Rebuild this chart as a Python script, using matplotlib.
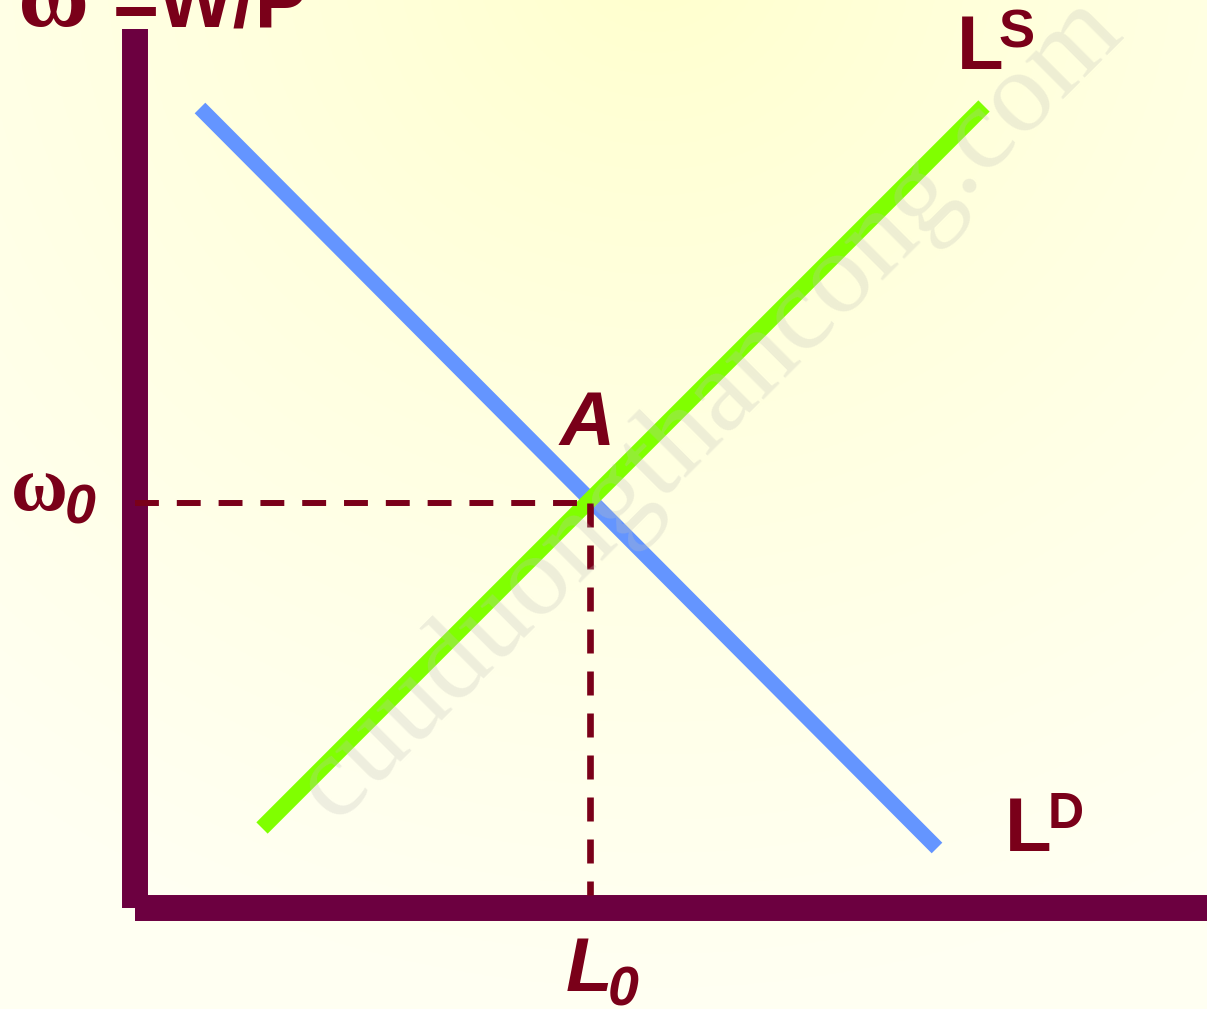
import numpy as np
import matplotlib
matplotlib.use('Agg')
import matplotlib.pyplot as plt

# curve end points (L, w) in diagram units, origin at the axes corner
ld_x = [0.65, 8.02]
ld_y = [8.00, 0.60]
ls_x = [1.27, 8.49]
ls_y = [0.80, 8.02]
L0 = 4.55
w0 = 4.05
x_axis_end = 10.72
y_axis_end = 8.79

text_col = '#7A0019'
axis_col = '#6C0040'
font = 'Liberation Sans'
serif = 'Liberation Serif'

fig = plt.figure(figsize=(12.07, 10.09), dpi=100)
ax = fig.add_axes([0, 0, 1, 1])
ax.set_xlim(-1.35, 10.72)
ax.set_ylim(-1.01, 9.08)
ax.axis('off')

# background: soft yellow radial gradient
gx, gy = np.meshgrid(np.linspace(-1.35, 10.72, 400), np.linspace(-1.01, 9.08, 340))
r = np.sqrt(((gx - 5.2) / 11.0) ** 2 + ((gy - 9.6) / 10.5) ** 2)
r = np.clip(r, 0, 1) ** 0.8
c0 = np.array([1.0, 1.0, 0.80])
c1 = np.array([1.0, 1.0, 0.95])
img = c0[None, None, :] * (1 - r[..., None]) + c1[None, None, :] * r[..., None]
ax.imshow(img, extent=[-1.35, 10.72, -1.01, 9.08], origin='lower', aspect='auto', zorder=0)

# axes
ax.plot([0, 0], [0, y_axis_end], color=axis_col, lw=18.7, solid_capstyle='butt', zorder=2)
ax.plot([0, x_axis_end], [0, 0], color=axis_col, lw=18.7, solid_capstyle='butt', zorder=2)

# curves
ax.plot(ld_x, ld_y, color='#6495FF', lw=10.8, solid_capstyle='butt', zorder=3)
ax.plot(ls_x, ls_y, color='#80FF00', lw=11.5, solid_capstyle='butt', zorder=4)

# dashed guides
ax.plot([0, L0], [w0, w0], color=text_col, lw=4.3, dashes=(4, 3), dash_capstyle='butt', zorder=5)
ax.plot([L0, L0], [w0, 0.13], color=text_col, lw=4.8, dashes=(3.6, 2.7), dash_capstyle='butt', zorder=5)

# labels
ax.text(-1.17, 8.82, 'ω', fontsize=70, fontweight='bold', family=serif, color=text_col,
        ha='left', va='baseline', zorder=6)
ax.text(-0.22, 8.82, '=W/P', fontsize=57, fontweight='bold', family=font, color=text_col,
        ha='left', va='baseline', zorder=6)
ax.text(8.22, 8.39, 'L', fontsize=55, fontweight='bold', family=font, color=text_col,
        ha='left', va='baseline', zorder=6)
ax.text(8.63, 8.61, 'S', fontsize=39, fontweight='bold', family=font, color=text_col,
        ha='left', va='baseline', zorder=6)
ax.text(8.70, 0.57, 'L', fontsize=55, fontweight='bold', family=font, color=text_col,
        ha='left', va='baseline', zorder=6)
ax.text(9.13, 0.80, 'D', fontsize=36, fontweight='bold', family=font, color=text_col,
        ha='left', va='baseline', zorder=6)
ax.text(4.25, 4.63, 'A', fontsize=55, fontweight='bold', fontstyle='italic', family=font,
        color=text_col, ha='left', va='baseline', zorder=6)
ax.text(-1.24, 3.98, 'ω', fontsize=56, fontweight='bold', family=serif, color=text_col,
        ha='left', va='baseline', zorder=6)
ax.text(-0.70, 3.85, '0', fontsize=40, fontweight='bold', fontstyle='italic', family=font,
        color=text_col, ha='left', va='baseline', zorder=6)
ax.text(4.31, -0.83, 'L', fontsize=55, fontweight='bold', fontstyle='italic', family=font,
        color=text_col, ha='left', va='baseline', zorder=6)
ax.text(4.73, -0.97, '0', fontsize=40, fontweight='bold', fontstyle='italic', family=font,
        color=text_col, ha='left', va='baseline', zorder=6)

# watermark
ax.text(5.75, 5.0, 'cuuduongthancong.com', fontsize=84, family=serif,
        color='#C4C4BC', alpha=0.28, rotation=45, ha='center', va='center', zorder=7)

fig.savefig('out.png', dpi=100)
